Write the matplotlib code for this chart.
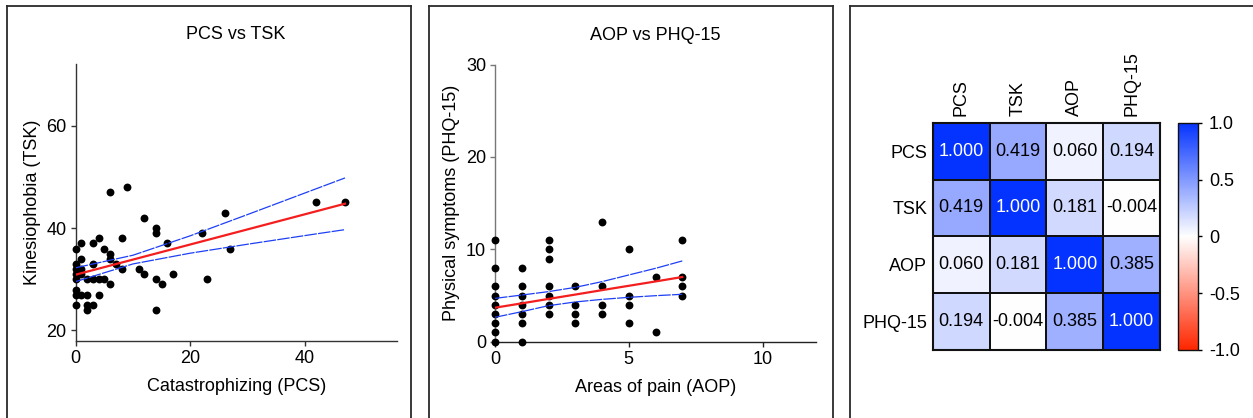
import numpy as np
import matplotlib
matplotlib.use("Agg")
import matplotlib.pyplot as plt
from matplotlib.colors import LinearSegmentedColormap
from matplotlib.lines import Line2D

plt.rcParams['font.family'] = ['Liberation Sans', 'DejaVu Sans']
plt.rcParams['font.size'] = 13

# ---------------- data: PCS vs TSK ----------------
pcs = [0, 0, 0, 0, 0, 0, 0, 0,
       1, 1, 1, 1, 1,
       2, 2, 2, 2,
       3, 3, 3, 3,
       4, 4, 4,
       5, 5,
       6, 6, 6, 6,
       7, 8, 8, 9, 11, 12, 12,
       14, 14, 14, 14,
       15, 16, 17, 22, 23, 26, 27, 42, 47]
tsk = [36, 33, 32, 31, 30, 28, 27, 25,
       37, 34, 32, 31, 27,
       30, 27, 25, 24,
       37, 33, 30, 25,
       38, 30, 27,
       36, 30,
       47, 35, 34, 29,
       33, 38, 32, 48, 32, 42, 31,
       40, 39, 30, 24,
       29, 37, 31, 39, 30, 43, 36, 45, 45]

# regression line and 95% CI
fit1_x = [0, 10, 20, 30, 40, 47]
fit1_y = [30.9, 33.85, 36.8, 39.75, 42.7, 44.77]
ci1_hi = [32.25, 34.7, 38.5, 42.65, 46.86, 49.8]
ci1_lo = [29.55, 33.0, 35.1, 36.85, 38.54, 39.7]

# ---------------- data: AOP vs PHQ-15 ----------------
aop = [0, 0, 0, 0, 0, 0, 0, 0, 0,
       1, 1, 1, 1, 1, 1, 1,
       2, 2, 2, 2, 2, 2, 2,
       3, 3, 3, 3,
       4, 4, 4, 4,
       5, 5, 5, 5,
       6, 6,
       7, 7, 7, 7]
phq = [11, 8, 6, 5, 4, 3, 2, 1, 0,
       8, 6, 5, 4, 3, 2, 0,
       11, 10, 9, 6, 5, 4, 3,
       6, 4, 3, 2,
       13, 6, 4, 3,
       10, 5, 4, 2,
       7, 1,
       11, 7, 6, 5]

fit2_x = [0, 1, 2, 3, 4, 5, 6, 7]
fit2_y = [3.68, 4.15, 4.63, 5.10, 5.58, 6.05, 6.52, 7.0]
ci2_hi = [4.69, 5.05, 5.42, 5.88, 6.5, 7.22, 7.94, 8.74]
ci2_lo = [2.64, 3.25, 3.9, 4.3, 4.58, 4.8, 4.98, 5.13]

# ---------------- data: correlation matrix ----------------
variables = ["PCS", "TSK", "AOP", "PHQ-15"]
corr = np.array([
    [1.000, 0.419, 0.060, 0.194],
    [0.419, 1.000, 0.181, -0.004],
    [0.060, 0.181, 1.000, 0.385],
    [0.194, -0.004, 0.385, 1.000],
])
cbar_ticks = [-1.0, -0.5, 0, 0.5, 1.0]
cbar_labels = ["-1.0", "-0.5", "0", "0.5", "1.0"]

W, H = 1253, 418
fig = plt.figure(figsize=(W / 100, H / 100), dpi=100)


def fx(px):
    return px / W


def fy(py):
    return 1 - py / H


# panel frames
for (l, r, right_edge) in [(7, 411, True), (428.7, 832.7, True), (850, 1260, False)]:
    fig.add_artist(Line2D([fx(l), fx(l)], [fy(6), -0.05], transform=fig.transFigure,
                          color='#2a2a2a', lw=1.3))
    fig.add_artist(Line2D([fx(l), fx(r)], [fy(6), fy(6)], transform=fig.transFigure,
                          color='#2a2a2a', lw=1.3))
    if right_edge:
        fig.add_artist(Line2D([fx(r), fx(r)], [fy(6), -0.05], transform=fig.transFigure,
                              color='#2a2a2a', lw=1.3))

RED = '#F41E1E'
BLUE = '#1E40F5'


def style_scatter_axes(ax, ycol='#222222', xcol='#222222'):
    for s in ['top', 'right']:
        ax.spines[s].set_visible(False)
    ax.spines['left'].set_color(ycol)
    ax.spines['bottom'].set_color(xcol)
    ax.spines['left'].set_linewidth(1.0)
    ax.spines['bottom'].set_linewidth(1.0)
    ax.tick_params(axis='both', direction='out', length=3.5, width=1.0,
                   labelsize=13, pad=3)
    ax.tick_params(axis='y', colors=ycol, labelcolor='black')
    ax.tick_params(axis='x', colors=xcol, labelcolor='black')


# ---------- panel 1 ----------
ax1 = fig.add_axes([fx(75.7), fy(340.7), fx(396.6 - 75.7), (340.7 - 64.3) / H])
ax1.set_xlim(0, 56)
ax1.set_ylim(18, 72)
ax1.scatter(pcs, tsk, s=32, color='black', zorder=3, clip_on=False, linewidths=0)
ax1.plot(fit1_x, fit1_y, color=RED, lw=1.6, zorder=4)
ax1.plot(fit1_x, ci1_hi, color=BLUE, lw=0.9, zorder=4, ls=(0, (10, 1)))
ax1.plot(fit1_x, ci1_lo, color=BLUE, lw=0.9, zorder=4, ls=(0, (10, 1)))
ax1.set_xticks([0, 20, 40])
ax1.set_yticks([20, 40, 60])
style_scatter_axes(ax1, '#333333', '#333333')
ax1.set_title("PCS vs TSK", fontsize=13, pad=18)
ax1.set_xlabel("Catastrophizing (PCS)", fontsize=13, labelpad=8)
ax1.set_ylabel("Kinesiophobia (TSK)", fontsize=13, labelpad=4)

# ---------- panel 2 ----------
ax2 = fig.add_axes([fx(495), fy(341.7), fx(816 - 495), (341.7 - 64.5) / H])
ax2.set_xlim(0, 12)
ax2.set_ylim(0, 30)
ax2.scatter(aop, phq, s=32, color='black', zorder=3, clip_on=False, linewidths=0)
ax2.plot(fit2_x, fit2_y, color=RED, lw=1.6, zorder=4)
ax2.plot(fit2_x, ci2_hi, color=BLUE, lw=0.9, zorder=4, ls=(0, (10, 1)))
ax2.plot(fit2_x, ci2_lo, color=BLUE, lw=0.9, zorder=4, ls=(0, (10, 1)))
ax2.set_xticks([0, 5, 10])
ax2.set_yticks([0, 10, 20, 30])
style_scatter_axes(ax2, '#777777', '#222222')
ax2.set_title("AOP vs PHQ-15", fontsize=13, pad=18)
ax2.set_xlabel("Areas of pain (AOP)", fontsize=13, labelpad=8)
ax2.set_ylabel("Physical symptoms (PHQ-15)", fontsize=13, labelpad=4)

# ---------- panel 3: heatmap ----------
cmap = LinearSegmentedColormap.from_list('rwb', ['#FF2600', '#FFFFFF', '#0433FF'])
ax3 = fig.add_axes([fx(932.7), fy(350), fx(1160 - 932.7), (350 - 122.7) / H])
n = len(variables)
mesh = ax3.pcolormesh(np.arange(n + 1), np.arange(n + 1), corr, cmap=cmap,
                      vmin=-1, vmax=1, edgecolors='#111111', linewidth=1.2)
ax3.set_xlim(0, n)
ax3.set_ylim(n, 0)
for i in range(n):
    for j in range(n):
        v = corr[i, j]
        ax3.text(j + 0.5, i + 0.5, f"{v:.3f}".replace('\u2212', '-'),
                 ha='center', va='center', fontsize=13,
                 color='white' if v > 0.7 else 'black')
ax3.xaxis.tick_top()
ax3.set_xticks(np.arange(n) + 0.5)
ax3.set_xticklabels(variables, rotation=90, va='bottom', ha='center')
ax3.set_yticks(np.arange(n) + 0.5)
ax3.set_yticklabels(variables)
ax3.tick_params(axis='both', length=0, labelsize=13)
ax3.tick_params(axis='x', pad=5)
ax3.tick_params(axis='y', pad=4)
for s in ax3.spines.values():
    s.set_linewidth(1.5)
    s.set_color('#111111')

cax = fig.add_axes([fx(1178), fy(350), fx(20), (350 - 122.7) / H])
cb = fig.colorbar(mesh, cax=cax, ticks=cbar_ticks)
cb.set_ticklabels(cbar_labels)
cb.outline.set_linewidth(1.0)
cb.outline.set_edgecolor('#111111')
cax.tick_params(length=3, width=1, labelsize=13, pad=5, direction='out')

fig.savefig("out.png", dpi=100)
